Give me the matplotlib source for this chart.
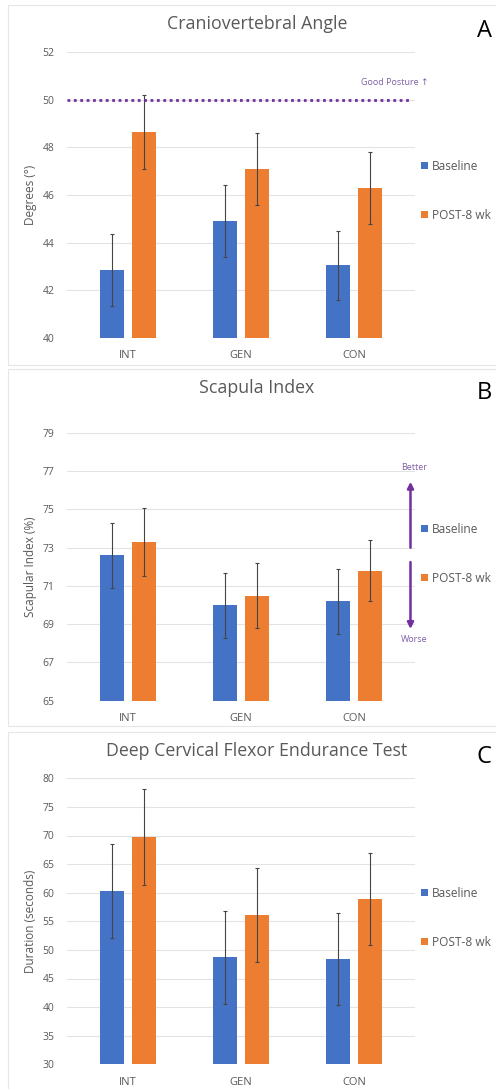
import numpy as np
import matplotlib
matplotlib.use("Agg")
import matplotlib.pyplot as plt
from matplotlib.patches import Rectangle

plt.rcParams['font.family'] = ['Open Sans', 'DejaVu Sans']

groups = ["INT", "GEN", "CON"]
series = ["Baseline", "POST-8 wk"]

cva_base = [42.85, 44.9, 43.05]
cva_post = [48.65, 47.1, 46.3]
cva_base_err = [1.5, 1.5, 1.45]
cva_post_err = [1.55, 1.5, 1.5]

sci_base = [72.6, 70.0, 70.2]
sci_post = [73.3, 70.5, 71.8]
sci_base_err = [1.7, 1.7, 1.7]
sci_post_err = [1.8, 1.7, 1.6]

dcf_base = [60.3, 48.7, 48.4]
dcf_post = [69.8, 56.1, 58.9]
dcf_base_err = [8.3, 8.1, 8.1]
dcf_post_err = [8.4, 8.3, 8.0]

BLUE = "#4472C4"
ORANGE = "#ED7D31"
GRID = "#E3E3E3"
TXT = "#595959"
PURPLE = "#7030A0"

W, H = 496, 1089
fig = plt.figure(figsize=(W / 100, H / 100), dpi=100)


def fy(px):
    return 1 - px / H


def panel(top_px, bot_px, title, title_px, ylabel, ylim, yticks,
          base, post, base_err, post_err, letter, letter_px, leg_px):
    left, right = 67 / W, 415 / W
    ax = fig.add_axes([left, fy(bot_px), right - left, fy(top_px) - fy(bot_px)])
    x = np.arange(len(groups))
    w = 0.22
    off = 0.142
    ekw = dict(ecolor="#454545", elinewidth=0.8, capsize=1.5, capthick=0.8)
    b1 = ax.bar(x - off, base, w, color=BLUE, label=series[0],
                yerr=base_err, error_kw=ekw, zorder=3)
    b2 = ax.bar(x + off, post, w, color=ORANGE, label=series[1],
                yerr=post_err, error_kw=ekw, zorder=3)
    ax.set_xlim(-0.54, 2.54)
    ax.set_ylim(*ylim)
    ax.set_yticks(yticks)
    ax.set_xticks(x)
    ax.set_xticklabels(groups)
    ax.tick_params(length=0, colors=TXT, labelsize=7.5)
    ax.tick_params(axis='x', pad=9, labelsize=8)
    ax.tick_params(axis='y', pad=9)
    ax.grid(axis='y', color=GRID, linewidth=0.8, zorder=0)
    for s in ax.spines.values():
        s.set_visible(False)
    ax.set_ylabel(ylabel, color=TXT, fontsize=8.5, labelpad=4)
    fig.text(257 / W, fy(title_px), title, ha='center', va='center',
             fontsize=12.8, color="#595959")
    fig.text(477 / W, fy(letter_px), letter, ha='left', va='center',
             fontsize=17, color="#000000")
    ax.legend(handles=[b1, b2], loc='center left',
              bbox_to_anchor=(421 / W, fy(leg_px)),
              bbox_transform=fig.transFigure, frameon=False,
              borderpad=0, borderaxespad=0,
              fontsize=8.6, handlelength=0.55, handleheight=0.55,
              handletextpad=0.4, labelspacing=3.0,
              labelcolor=TXT)
    return ax


axA = panel(52, 338, "Craniovertebral Angle", 24, "Degrees (°)",
            (40, 52), [40, 42, 44, 46, 48, 50, 52],
            cva_base, cva_post, cva_base_err, cva_post_err, "A", 31, 191)
axA.axhline(50, xmin=0, xmax=0.985, color=PURPLE, linestyle=(0, (1, 1.3)),
            linewidth=2, zorder=4)
axA.text(2.66, 50.55, "Good Posture ↑", ha='right', va='bottom',
         fontsize=6.5, color="#7F5FA8")

axB = panel(433, 700.7, "Scapula Index", 388, "Scapular Index (%)",
            (65, 79), [65, 67, 69, 71, 73, 75, 77, 79],
            sci_base, sci_post, sci_base_err, sci_post_err, "B", 393, 554)
axB.annotate("", xy=(2.5, 76.45), xytext=(2.5, 73.0),
             arrowprops=dict(arrowstyle="-|>", color=PURPLE, lw=1.8,
                             mutation_scale=9, shrinkA=0, shrinkB=0),
             annotation_clip=False)
axB.annotate("", xy=(2.5, 68.75), xytext=(2.5, 72.25),
             arrowprops=dict(arrowstyle="-|>", color=PURPLE, lw=1.8,
                             mutation_scale=9, shrinkA=0, shrinkB=0),
             annotation_clip=False)
axB.text(2.53, 77.2, "Better", ha='center', va='center', fontsize=6.5,
         color="#7F5FA8")
axB.text(2.53, 68.2, "Worse", ha='center', va='center', fontsize=6.5,
         color="#7F5FA8")

axC = panel(778.3, 1064.3, "Deep Cervical Flexor Endurance Test", 751,
            "Duration (seconds)", (30, 80), list(range(30, 81, 5)),
            dcf_base, dcf_post, dcf_base_err, dcf_post_err, "C", 757, 918)

for top, bot in [(5, 365), (369, 726), (732, 1095)]:
    fig.add_artist(Rectangle((8 / W, fy(bot)), 1.0, fy(top) - fy(bot),
                             transform=fig.transFigure, fill=False,
                             edgecolor="#E6E6E6", linewidth=0.8))

fig.savefig("out.png", dpi=100, facecolor="white")
